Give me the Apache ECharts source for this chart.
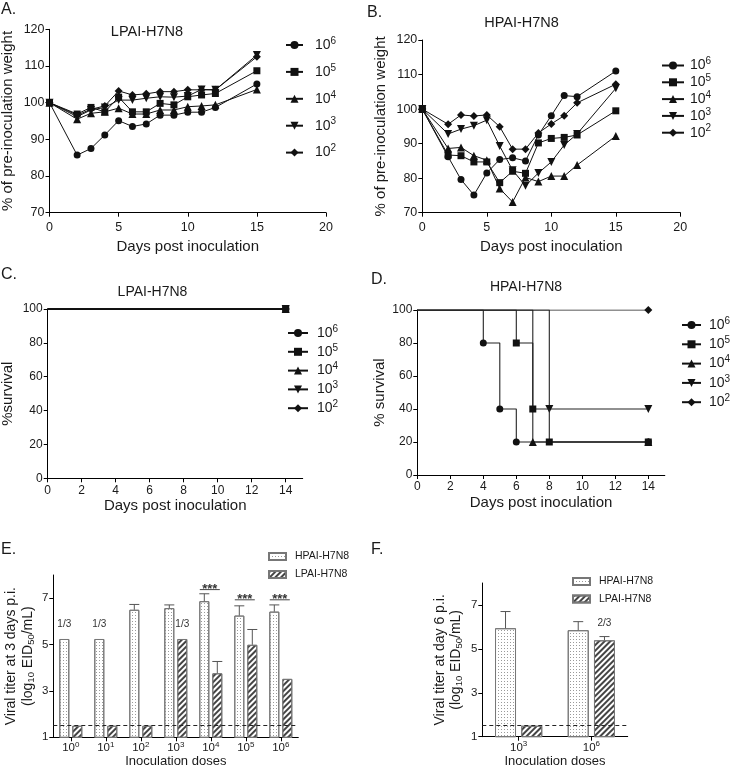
<!DOCTYPE html>
<html><head><meta charset="utf-8">
<script src="https://cdn.jsdelivr.net/npm/echarts@6/dist/echarts.min.js"></script>
<style>html,body{margin:0;padding:0;background:#fff}#c{width:730px;height:771px}</style>
</head><body><div id="c"></div>
<script>
// ---------------- DATA ----------------
const weightDays = [0, 2, 3, 4, 5, 6, 7, 8, 9, 10, 11, 12, 15];
const doseLabels = ['10^6', '10^5', '10^4', '10^3', '10^2'];

// Panel A: LPAI-H7N8 weight (% of pre-inoculation weight)
const lpaiWeight1e6 = [100, 85.7, 87.5, 91.2, 95.1, 93.5, 94.2, 96.6, 96.6, 97.4, 97.4, 98.7, 105.1];
const lpaiWeight1e5 = [100, 96.9, 98.7, 97.5, 101.5, 97.5, 97.5, 99.8, 99.4, 101.6, 102.1, 102.5, 108.7];
const lpaiWeight1e4 = [100, 95.5, 97.1, 97.5, 98.5, 96.9, 96.9, 98.0, 98.0, 98.9, 99.1, 99.4, 103.6];
const lpaiWeight1e3 = [100, 96.2, 98.0, 98.7, 100.7, 100.7, 101.2, 101.6, 101.5, 101.8, 103.6, 103.5, 113.0];
const lpaiWeight1e2 = [100, 96.6, 98.2, 99.1, 103.2, 102.1, 102.4, 103.0, 103.0, 103.5, 103.5, 103.5, 112.5];

// Panel B: HPAI-H7N8 weight
const hpaiWeight1e6 = [100, 86.2, 79.6, 75.1, 81.5, 85.4, 85.9, 85.0, 92.5, 98.1, 103.9, 103.6, 111.0];
const hpaiWeight1e5 = [100, 86.7, 86.5, 84.7, 84.7, 78.7, 82.0, 81.4, 90.2, 91.5, 91.8, 92.5, 99.5];
const hpaiWeight1e4 = [100, 88.6, 88.9, 86.5, 85.2, 77.0, 73.1, 80.2, 79.0, 80.6, 80.6, 83.8, 92.2];
const hpaiWeight1e3 = [100, 92.8, 94.2, 95.2, 96.8, 89.3, 82.3, 77.8, 81.5, 84.7, 89.6, 92.8, 106.0];
const hpaiWeight1e2 = [100, 95.6, 98.3, 98.0, 98.3, 94.9, 88.4, 88.4, 93.1, 95.7, 98.1, 101.8, 107.2];

// Panel C: LPAI-H7N8 survival (all groups)
const lpaiSurvDays = [0, 14];
const lpaiSurv = [100, 100];

// Panel D: HPAI-H7N8 survival
const hpaiSurvDays1e6 = [0, 4, 5, 6, 14];  const hpaiSurv1e6 = [100, 80, 40, 20, 20];
const hpaiSurvDays1e5 = [0, 6, 7, 8, 14];  const hpaiSurv1e5 = [100, 80, 40, 20, 20];
const hpaiSurvDays1e4 = [0, 7, 14];        const hpaiSurv1e4 = [100, 20, 20];
const hpaiSurvDays1e3 = [0, 8, 14];        const hpaiSurv1e3 = [100, 40, 40];
const hpaiSurvDays1e2 = [0, 14];           const hpaiSurv1e2 = [100, 100];

// Panel E: viral titer at 3 days p.i.
const doseCatsE = ['10^0', '10^1', '10^2', '10^3', '10^4', '10^5', '10^6'];
const hpaiDay3 = [5.24, 5.24, 6.5, 6.57, 6.87, 6.25, 6.42];
const hpaiDay3ErrTop = [null, null, 6.73, 6.71, 7.19, 6.67, 6.71];
const lpaiDay3 = [1.5, 1.5, 1.5, 5.24, 3.76, 4.99, 3.52];
const lpaiDay3ErrTop = [null, null, null, null, 4.27, 5.65, null];
const hpaiDay3Notes = ['1/3', '1/3', '', '', '', '', ''];
const lpaiDay3Notes = ['', '', '', '1/3', '', '', ''];
const sigCatsE = [4, 5, 6];
const sigLevelE = [7.37, 6.93, 6.93];
const sigTextE = ['***', '***', '***'];
const detectionLimit = 1.5;

// Panel F: viral titer at day 6 p.i.
const doseCatsF = ['10^3', '10^6'];
const hpaiDay6 = [5.94, 5.85];
const hpaiDay6ErrTop = [6.7, 6.24];
const lpaiDay6 = [1.5, 5.39];
const lpaiDay6ErrTop = [null, 5.56];
const lpaiDay6Notes = ['', '2/3'];

// ---------------- STYLE ----------------
const FONT = 'Liberation Sans, Arial, Helvetica, sans-serif';
const TXT = '#1a1a1a';
const symbols = ['circle', 'rect', 'triangle', 'path://M0,0L10,0L5,9Z', 'diamond'];
const symSizes = [7, 7, 8, 8, 8];
const powFmt = s => { const p = s.split('^'); return '{g|}{b|' + p[0] + '}{s|' + p[1] + '}'; };

const chart = echarts.init(document.getElementById('c'), null, {renderer: 'canvas'});

function axisCommon(extra) {
  return Object.assign({
    axisLine: {show: true, lineStyle: {color: '#000', width: 1}},
    axisTick: {show: true, inside: false, length: 4, lineStyle: {color: '#000'}},
    splitLine: {show: false},
    axisLabel: {color: TXT, fontFamily: FONT, fontSize: 12.5},
    nameTextStyle: {color: TXT, fontFamily: FONT, fontSize: 15},
    nameLocation: 'middle'
  }, extra);
}

const grids = [
  {left: 49.5, top: 29.3, width: 276.5, height: 183.4},
  {left: 422.3, top: 40, width: 258, height: 172.7},
  {left: 47.7, top: 309, width: 255, height: 169.3},
  {left: 417.3, top: 310, width: 247.5, height: 165},
  {left: 53.3, top: 575, width: 245, height: 162.3},
  {left: 482.3, top: 583, width: 145.4, height: 153.7}
].map(g => Object.assign({containLabel: false, outerBoundsMode: 'none'}, g));

const survTicks = [0, 2, 4, 6, 8, 10, 12, 14];
const titerTicks = [1, 3, 5, 7];
const powRich = {g: {width: 0}, b: {fontSize: 11.5, lineHeight: 16, fontFamily: FONT, color: TXT},
  s: {fontSize: 8, verticalAlign: 'top', lineHeight: 8, fontFamily: FONT, color: TXT}};

const xAxes = [
  axisCommon({gridIndex: 0, type: 'value', min: 0, max: 20, interval: 5, name: 'Days post inoculation', nameGap: 27, axisLabel: {color: TXT, fontFamily: FONT, fontSize: 12.5, margin: 8}}),
  axisCommon({gridIndex: 1, type: 'value', min: 0, max: 20, interval: 5, name: 'Days post inoculation', nameGap: 27, axisLabel: {color: TXT, fontFamily: FONT, fontSize: 12.5, margin: 8}}),
  axisCommon({gridIndex: 2, type: 'value', min: 0, max: 15, interval: 1, name: 'Days post inoculation', nameGap: 20,
    axisTick: {show: true, length: 4, lineStyle: {color: '#000'}, customValues: survTicks},
    axisLabel: {color: TXT, fontFamily: FONT, fontSize: 12, margin: 6, customValues: survTicks}}),
  axisCommon({gridIndex: 3, type: 'value', min: 0, max: 15, interval: 1, name: 'Days post inoculation', nameGap: 20,
    axisTick: {show: true, length: 4, lineStyle: {color: '#000'}, customValues: survTicks},
    axisLabel: {color: TXT, fontFamily: FONT, fontSize: 12, margin: 6, customValues: survTicks}}),
  axisCommon({gridIndex: 4, type: 'category', data: doseCatsE, name: 'Inoculation doses', nameGap: 12,
    nameTextStyle: {color: TXT, fontFamily: FONT, fontSize: 13},
    axisTick: {show: true, length: 4, alignWithLabel: true, lineStyle: {color: '#000'}},
    axisLabel: {interval: 0, color: TXT, fontFamily: FONT, fontSize: 11.5, margin: 3, formatter: powFmt, rich: powRich}}),
  axisCommon({gridIndex: 5, type: 'category', data: doseCatsF, name: 'Inoculation doses', nameGap: 18,
    nameTextStyle: {color: TXT, fontFamily: FONT, fontSize: 13},
    axisTick: {show: true, length: 4, alignWithLabel: true, lineStyle: {color: '#000'}},
    axisLabel: {interval: 0, color: TXT, fontFamily: FONT, fontSize: 11.5, margin: 3, formatter: powFmt, rich: powRich}})
];

const yAxes = [
  axisCommon({gridIndex: 0, type: 'value', min: 70, max: 120, interval: 10, name: '% of pre-inoculation weight', nameGap: 34, axisLabel: {color: TXT, fontFamily: FONT, fontSize: 12.5, margin: 5}}),
  axisCommon({gridIndex: 1, type: 'value', min: 70, max: 120, interval: 10, name: '% of pre-inoculation weight', nameGap: 34, axisLabel: {color: TXT, fontFamily: FONT, fontSize: 12.5, margin: 5}}),
  axisCommon({gridIndex: 2, type: 'value', min: 0, max: 100, interval: 20, name: '%survival', nameGap: 32, axisLabel: {color: TXT, fontFamily: FONT, fontSize: 12, margin: 5}}),
  axisCommon({gridIndex: 3, type: 'value', min: 0, max: 100, interval: 20, name: '% survival', nameGap: 30, axisLabel: {color: TXT, fontFamily: FONT, fontSize: 12, margin: 5}}),
  axisCommon({gridIndex: 4, type: 'value', min: 1, max: 8, interval: 1, name: 'Viral titer at 3 days p.i.\n(log{sub|10} EID{sub|50}/mL)', nameGap: 17,
    nameTextStyle: {color: TXT, fontFamily: FONT, fontSize: 14, lineHeight: 17, rich: {sub: {fontSize: 9.5, verticalAlign: 'bottom', lineHeight: 17, fontFamily: FONT, color: TXT}}},
    axisTick: {show: true, length: 4, lineStyle: {color: '#000'}, customValues: titerTicks},
    axisLabel: {color: TXT, fontFamily: FONT, fontSize: 11.5, margin: 5, customValues: titerTicks}}),
  axisCommon({gridIndex: 5, type: 'value', min: 1, max: 8, interval: 1, name: 'Viral titer at day 6 p.i.\n(log{sub|10} EID{sub|50}/mL)', nameGap: 18,
    nameTextStyle: {color: TXT, fontFamily: FONT, fontSize: 14, lineHeight: 16, rich: {sub: {fontSize: 9.5, verticalAlign: 'bottom', lineHeight: 16, fontFamily: FONT, color: TXT}}},
    axisTick: {show: true, length: 4, lineStyle: {color: '#000'}, customValues: titerTicks},
    axisLabel: {color: TXT, fontFamily: FONT, fontSize: 11.5, margin: 5, customValues: titerTicks}})
];

const series = [];
const lpaiWeights = [lpaiWeight1e6, lpaiWeight1e5, lpaiWeight1e4, lpaiWeight1e3, lpaiWeight1e2];
const hpaiWeights = [hpaiWeight1e6, hpaiWeight1e5, hpaiWeight1e4, hpaiWeight1e3, hpaiWeight1e2];
function lineSeries(name, gi, data, i, extra) {
  return Object.assign({
    type: 'line', name: name, xAxisIndex: gi, yAxisIndex: gi, data: data,
    symbol: symbols[i], symbolSize: symSizes[i], showAllSymbol: true,
    lineStyle: {color: '#111', width: 1}, itemStyle: {color: '#111'},
    emphasis: {disabled: true}, animation: false
  }, extra || {});
}
doseLabels.forEach((n, i) => {
  series.push(lineSeries(n, 0, weightDays.map((d, j) => [d, lpaiWeights[i][j]]), i));
});
doseLabels.forEach((n, i) => {
  series.push(lineSeries(n, 1, weightDays.map((d, j) => [d, hpaiWeights[i][j]]), i));
});
// survival C: same curve for all doses
const survZ = [2, 6, 3, 4, 5];
doseLabels.forEach((n, i) => {
  const data = lpaiSurvDays.map((d, j) => ({value: [d, lpaiSurv[j]], symbol: j === 0 ? 'none' : symbols[i]}));
  series.push(lineSeries(n, 2, data, i, {z: survZ[i], lineStyle: {color: '#111', width: 1.6}}));
});
const hpaiSurvDays = [hpaiSurvDays1e6, hpaiSurvDays1e5, hpaiSurvDays1e4, hpaiSurvDays1e3, hpaiSurvDays1e2];
const hpaiSurvs = [hpaiSurv1e6, hpaiSurv1e5, hpaiSurv1e4, hpaiSurv1e3, hpaiSurv1e2];
doseLabels.forEach((n, i) => {
  const data = hpaiSurvDays[i].map((d, j) => ({value: [d, hpaiSurvs[i][j]], symbol: j === 0 ? 'none' : symbols[i]}));
  series.push(lineSeries(n, 3, data, i, {step: 'end', z: survZ[i], lineStyle: {color: '#222', width: 1.1}}));
});

// bar styles
const dotStyle = {color: '#fff', borderColor: '#777', borderWidth: 1,
  decal: {symbol: 'rect', symbolSize: 1, dashArrayX: [1, 2], dashArrayY: [1, 2], color: '#9a9a9a'}};
const hatchStyle = {color: '#fff', borderColor: '#777', borderWidth: 1,
  decal: {symbol: 'rect', symbolSize: 1, dashArrayX: [1, 0], dashArrayY: [1.5, 2], rotation: -Math.PI / 4, color: '#444'}};
const noteLabel = (notes, dist) => ({show: true, position: 'top', distance: dist, fontFamily: FONT, fontSize: 10, color: '#333',
  formatter: p => notes[p.dataIndex] || ''});

function errBars(gi, tops, errTops, side, barW, gapPx) {
  const data = [];
  tops.forEach((t, k) => { if (errTops[k] != null) data.push([k, t, errTops[k]]); });
  return {
    type: 'custom', xAxisIndex: gi, yAxisIndex: gi, data: data, z: 5, silent: true, animation: false,
    encode: {x: 0, y: [1, 2]},
    renderItem: (params, api) => {
      const p0 = api.coord([api.value(0), api.value(1)]);
      const p1 = api.coord([api.value(0), api.value(2)]);
      const x = p0[0] + side * (barW + gapPx) / 2;
      const st = {stroke: '#555', lineWidth: 1};
      return {type: 'group', children: [
        {type: 'line', shape: {x1: x, y1: p0[1], x2: x, y2: p1[1]}, style: st},
        {type: 'line', shape: {x1: x - 5, y1: p1[1], x2: x + 5, y2: p1[1]}, style: st}
      ]};
    }
  };
}
const dashLine = {silent: true, symbol: ['none', 'none'], label: {show: false},
  lineStyle: {type: [4, 3], color: '#222', width: 1}, data: [{yAxis: detectionLimit}], animation: false};

// E bars
series.push({type: 'bar', name: 'HPAI-H7N8', xAxisIndex: 4, yAxisIndex: 4, data: hpaiDay3, barWidth: 10, barGap: '30%',
  itemStyle: dotStyle, label: noteLabel(hpaiDay3Notes, 10), markLine: dashLine, animation: false, emphasis: {disabled: true}});
series.push({type: 'bar', name: 'LPAI-H7N8', xAxisIndex: 4, yAxisIndex: 4, data: lpaiDay3, barWidth: 10, barGap: '30%',
  itemStyle: hatchStyle, label: noteLabel(lpaiDay3Notes, 10), animation: false, emphasis: {disabled: true}});
series.push(errBars(4, hpaiDay3, hpaiDay3ErrTop, -1, 10, 3));
series.push(errBars(4, lpaiDay3, lpaiDay3ErrTop, 1, 10, 3));
// significance marks
series.push({
  type: 'custom', xAxisIndex: 4, yAxisIndex: 4, silent: true, animation: false, z: 6,
  data: sigCatsE.map((c, k) => [c, sigLevelE[k], k]),
  renderItem: (params, api) => {
    const p = api.coord([api.value(0), api.value(1)]);
    return {type: 'group', children: [
      {type: 'line', shape: {x1: p[0] - 11, y1: p[1], x2: p[0] + 9, y2: p[1]}, style: {stroke: '#444', lineWidth: 1}},
      {type: 'text', x: p[0] - 1, y: p[1], style: {text: sigTextE[api.value(2)], font: 'bold 13px ' + FONT, fill: '#333', align: 'center', verticalAlign: 'middle'}}
    ]};
  }
});
// F bars
series.push({type: 'bar', name: 'HPAI-H7N8', xAxisIndex: 5, yAxisIndex: 5, data: hpaiDay6, barWidth: 21, barGap: '25%',
  itemStyle: dotStyle, markLine: dashLine, animation: false, emphasis: {disabled: true}});
series.push({type: 'bar', name: 'LPAI-H7N8', xAxisIndex: 5, yAxisIndex: 5, data: lpaiDay6, barWidth: 21, barGap: '25%',
  itemStyle: hatchStyle, label: noteLabel(lpaiDay6Notes, 12), animation: false, emphasis: {disabled: true}});
series.push(errBars(5, hpaiDay6, hpaiDay6ErrTop, -1, 21, 5.25));
series.push(errBars(5, lpaiDay6, lpaiDay6ErrTop, 1, 21, 5.25));

function doseLegend(left, top, w, gap, gPad) {
  return {
    orient: 'vertical', left: left, top: top, itemWidth: w, itemHeight: 10, itemGap: gap, padding: 0,
    data: doseLabels, selectedMode: false, formatter: powFmt,
    textStyle: {color: TXT, fontFamily: FONT, fontSize: 14,
      rich: {g: {width: gPad}, b: {fontSize: 14, lineHeight: 18, fontFamily: FONT, color: TXT},
        s: {fontSize: 10, verticalAlign: 'top', lineHeight: 10, fontFamily: FONT, color: TXT}}}
  };
}
function barLegend(left, top, gap) {
  return {orient: 'vertical', left: left, top: top, itemWidth: 17, itemHeight: 7, itemGap: gap, padding: 0,
    icon: 'rect', data: ['HPAI-H7N8', 'LPAI-H7N8'], selectedMode: false,
    textStyle: {color: TXT, fontFamily: FONT, fontSize: 10.5, padding: [0, 0, 0, 4]}};
}

const legends = [
  doseLegend(285, 36, 17, 10.9, 7),
  doseLegend(661, 56.5, 22, 0.8, 1),
  doseLegend(287, 324, 20, 2.8, 4),
  doseLegend(681, 316, 19, 3.3, 3),
  barLegend(268, 551, 7),
  barLegend(572, 576, 6.5)
];

const texts = [
  ['A.', 1, 2, 16, 'left', 'top'], ['B.', 367, 5, 16, 'left', 'top'],
  ['C.', 1, 267, 16, 'left', 'top'], ['D.', 371, 272, 16, 'left', 'top'],
  ['E.', 1, 542, 16, 'left', 'top'], ['F.', 371, 542, 16, 'left', 'top'],
  ['LPAI-H7N8', 147, 32, 14.5, 'center', 'middle'], ['HPAI-H7N8', 521.5, 23.3, 14.5, 'center', 'middle'],
  ['LPAI-H7N8', 152.5, 291.7, 14, 'center', 'middle'], ['HPAI-H7N8', 526, 286.7, 14, 'center', 'middle']
];
const graphic = texts.map(t => ({type: 'text', x: t[1], y: t[2], silent: true,
  style: {text: t[0], font: t[3] + 'px ' + FONT, fill: TXT, align: t[4], verticalAlign: t[5]}}));

chart.setOption({
  animation: false,
  backgroundColor: '#fff',
  textStyle: {fontFamily: FONT},
  grid: grids, xAxis: xAxes, yAxis: yAxes, legend: legends, series: series, graphic: graphic
});
</script></body></html>
